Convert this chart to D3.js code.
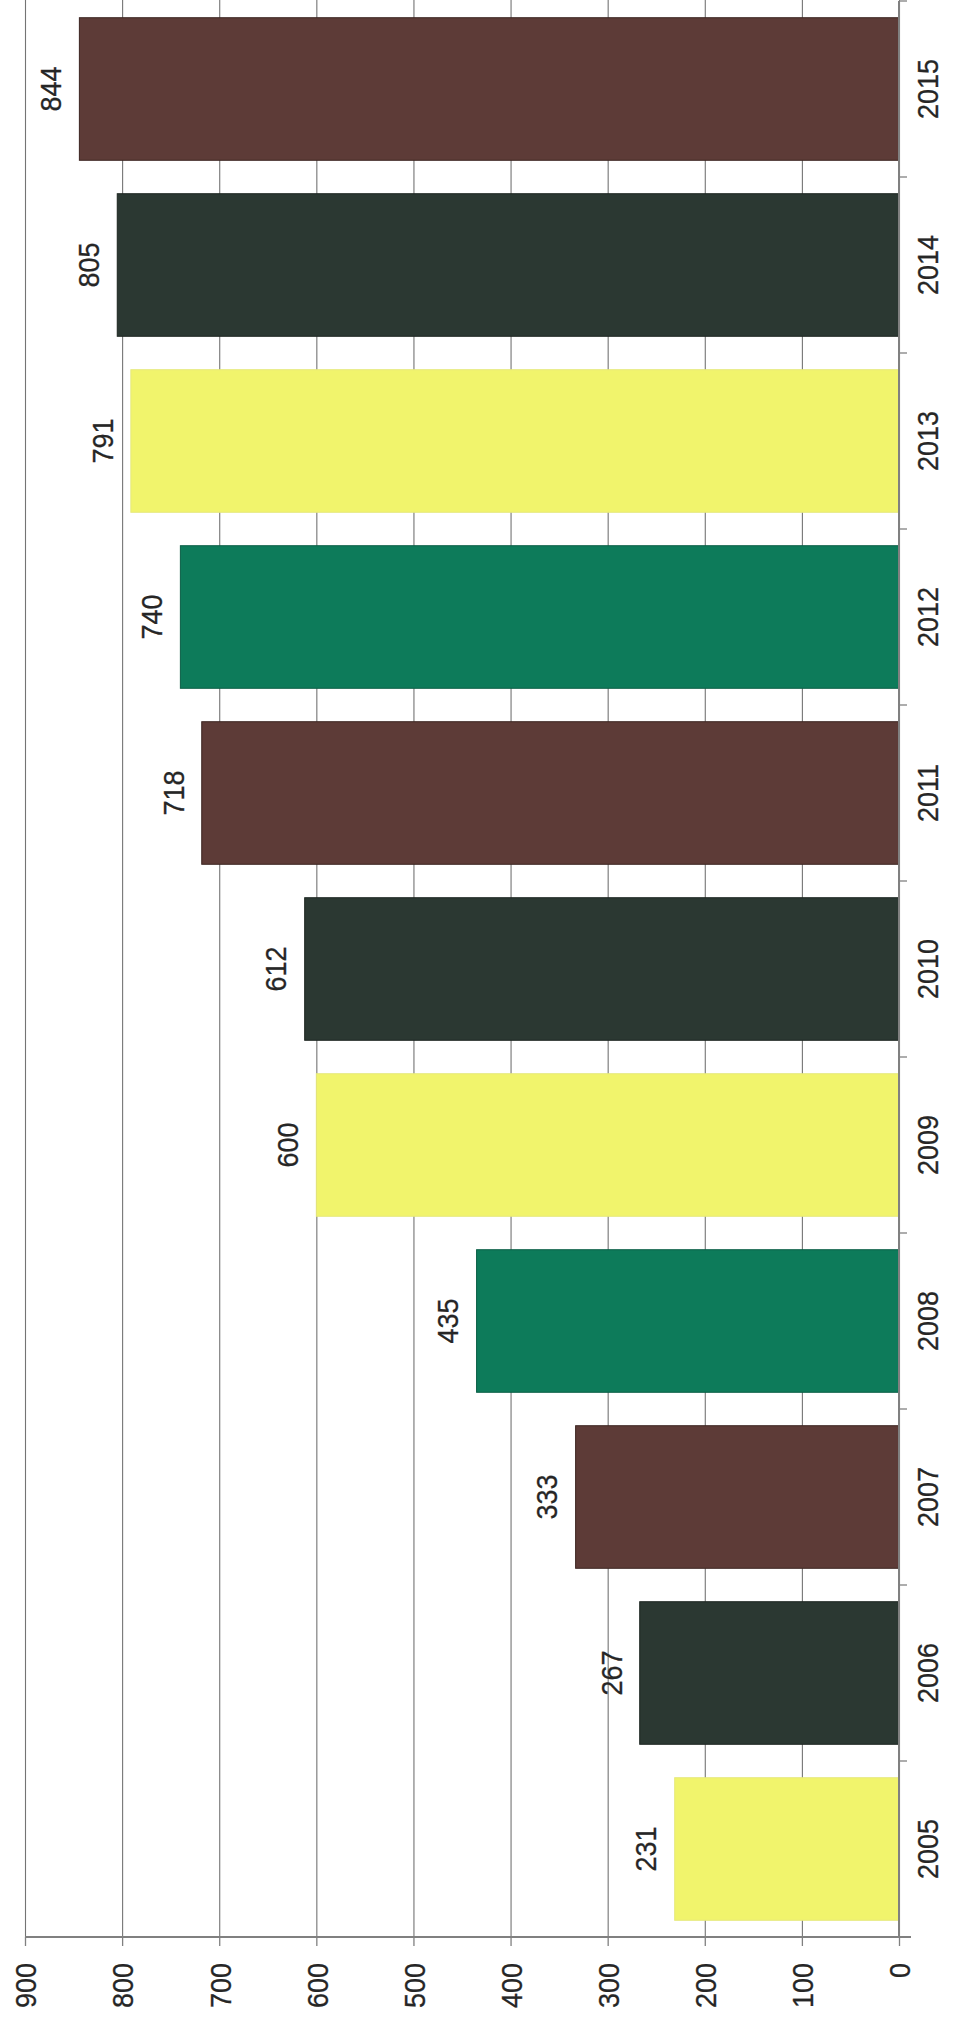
<!DOCTYPE html>
<html>
<head>
<meta charset="utf-8">
<script src="https://cdn.jsdelivr.net/npm/d3@7"></script>
<style>
  html, body { margin: 0; padding: 0; background: #ffffff; }
  svg { display: block; }
  text { font-family: "Liberation Sans", Arial, sans-serif; fill: #262626; }
</style>
</head>
<body>
<svg id="chart" width="955" height="2017"></svg>
<script>
// ---- data ----
const years  = ["2005","2006","2007","2008","2009","2010","2011","2012","2013","2014","2015"];
const values = [231, 267, 333, 435, 600, 612, 718, 740, 791, 805, 844];
const valueTicks = [0,100,200,300,400,500,600,700,800,900];

// ---- style constants ----
const palette = ["#f1f46c", "#2b3832", "#5d3b37", "#0d7b5a"]; // yellow, dark, brown, teal
const strokes = ["#e6e87c", "#1d2520", "#3b2420", "#0a5e45"];
const fs = 30, squeeze = 0.9;
const font = '"Liberation Sans", Arial, sans-serif';

const svg = d3.select("#chart");

// value axis runs horizontally, 0 at right, 900 at left
const x = d3.scaleLinear().domain([0, 900]).range([899, 25]);
// categories run vertically, latest year at top
const y = d3.scaleBand().domain(years.slice().reverse()).range([1, 1937])
  .paddingInner(0.19).paddingOuter(0.095);
const axisY = 1937;

// grid lines
svg.append("g")
  .attr("transform", `translate(0,${axisY})`)
  .call(d3.axisBottom(x).tickValues(valueTicks).tickSize(-axisY).tickFormat(""))
  .call(g => g.select(".domain").remove())
  .call(g => g.selectAll("line").attr("stroke", "#747474").attr("stroke-width", 1.1));

// bars
const data = years.map((yr, i) => ({ yr, v: values[i], i }));
svg.append("g").selectAll("rect").data(data).join("rect")
  .attr("x", d => x(d.v))
  .attr("y", d => y(d.yr))
  .attr("width", d => x(0) - x(d.v))
  .attr("height", y.bandwidth())
  .attr("fill", d => palette[d.i % 4])
  .attr("stroke", d => strokes[d.i % 4])
  .attr("stroke-width", 1);

// value labels
svg.append("g").selectAll("text").data(data).join("text")
  .attr("transform", d => `translate(${x(d.v) - 29},${y(d.yr) + y.bandwidth() / 2}) rotate(-90) scale(${squeeze},1)`)
  .attr("text-anchor", "middle")
  .attr("dy", "0.36em")
  .style("font-size", fs + "px")
  .attr("stroke", "#262626").attr("stroke-width", 0.3)
  .text(d => d.v);

// bottom (value) axis
const gx = svg.append("g")
  .attr("transform", `translate(0,${axisY})`)
  .call(d3.axisBottom(x).tickValues(valueTicks).tickSizeInner(9).tickSizeOuter(0).tickFormat(d3.format("d")));
gx.select(".domain").attr("stroke", "#808080").attr("stroke-width", 2)
  .attr("d", `M${x(900)},0H${x(0) + 12}`);
gx.selectAll(".tick line").attr("stroke", "#808080").attr("stroke-width", 1.3);
gx.selectAll(".tick text")
  .attr("y", null).attr("dy", null)
  .attr("transform", `translate(0,26) rotate(-90) scale(${squeeze},1)`)
  .attr("text-anchor", "end")
  .attr("dy", "0.36em")
  .style("font-size", fs + "px")
  .style("font-family", font)
  .attr("fill", "#262626").attr("stroke", "#262626").attr("stroke-width", 0.3);

// right (category) axis
const step = y.step();
const boundaries = years.slice().reverse().map(yr => y(yr) - step * y.paddingInner() / 2);
boundaries.push(y(years[0]) + y.bandwidth() + step * y.paddingInner() / 2);
const gy = svg.append("g").attr("transform", `translate(${x(0)},0)`);
gy.append("line").attr("x1", 0).attr("x2", 0).attr("y1", boundaries[0]).attr("y2", axisY)
  .attr("stroke", "#808080").attr("stroke-width", 2);
gy.selectAll("line.bt").data(boundaries).join("line").attr("class", "bt")
  .attr("x1", 0).attr("x2", 8).attr("y1", d => d).attr("y2", d => d)
  .attr("stroke", "#808080").attr("stroke-width", 1.3);
gy.append("g")
  .call(d3.axisRight(y).tickSize(0).tickPadding(0))
  .call(g => g.select(".domain").remove())
  .call(g => g.selectAll(".tick text")
    .attr("x", null).attr("dy", null)
    .attr("transform", `translate(39,0) rotate(-90) scale(${squeeze},1)`)
    .attr("text-anchor", "middle")
    .attr("dy", "0em")
    .style("font-size", fs + "px")
    .style("font-family", font)
    .attr("fill", "#262626").attr("stroke", "#262626").attr("stroke-width", 0.3));
</script>
</body>
</html>
